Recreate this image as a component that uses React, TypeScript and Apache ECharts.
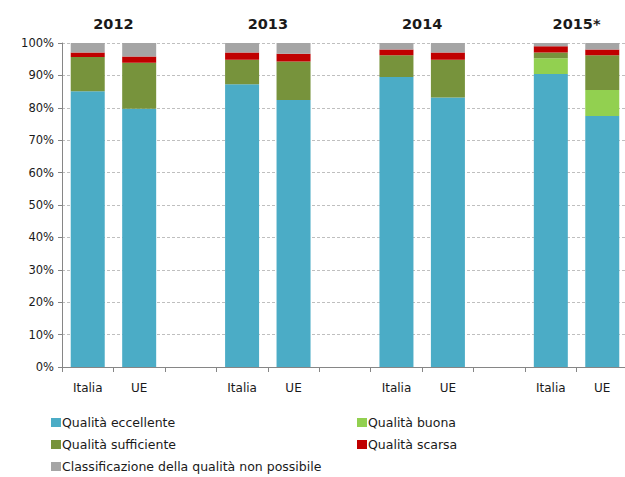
import React, { useEffect, useRef } from "react";
import * as echarts from "echarts";

const categories = ["Italia", "UE", "", "Italia", "UE", "", "Italia", "UE", "", "Italia", "UE"];
const years = ["2012", "2013", "2014", "2015*"];
const yTicks = [0, 10, 20, 30, 40, 50, 60, 70, 80, 90, 100];

const eccellente = [85.1, 79.7, null, 87.3, 82.4, null, 89.5, 83.2, null, 90.4, 77.5];
const buona = [0, 0, null, 0, 0, null, 0, 0, null, 4.9, 8.0];
const sufficiente = [10.6, 14.2, null, 7.5, 11.9, null, 6.7, 11.6, null, 1.8, 10.7];
const scarsa = [1.4, 1.9, null, 2.3, 2.4, null, 1.8, 2.3, null, 1.9, 1.8];
const nonPossibile = [2.9, 4.2, null, 2.9, 3.3, null, 2.0, 2.9, null, 1.0, 2.0];

const seriesNames = [
  "Qualità eccellente",
  "Qualità buona",
  "Qualità sufficiente",
  "Qualità scarsa",
  "Classificazione della qualità non possibile",
];
const seriesData = [eccellente, buona, sufficiente, scarsa, nonPossibile];
const colors = ["#4BACC6", "#92D050", "#77933C", "#C00000", "#A5A5A5"];

const FONT = "DejaVu Sans";
const TEXT = "#1a1a1a";

export default function App() {
  const ref = useRef<HTMLDivElement>(null);
  useEffect(() => {
    if (!ref.current) return;
    const chart = echarts.init(ref.current, undefined, { renderer: "svg" });
    const yearAt: Record<number, string> = {};
    years.forEach((y, i) => {
      yearAt[i * 3 + 1] = y;
    });
    const legendBase = {
      orient: "vertical",
      top: 411,
      height: 90,
      itemWidth: 10,
      itemHeight: 9,
      itemGap: 9,
      icon: "rect",
      textStyle: { color: TEXT, fontFamily: FONT, fontSize: 12.5, padding: [0, 0, 0, -4] },
    };
    chart.setOption({
      animation: false,
      backgroundColor: "#ffffff",
      grid: { left: 62, top: 43, width: 566, height: 324, outerBoundsMode: "none", containLabel: false },
      xAxis: [
        {
          type: "category",
          data: categories,
          boundaryGap: true,
          axisLine: { show: true, lineStyle: { color: "#868686", width: 1 } },
          axisTick: { show: true, length: 5, lineStyle: { color: "#868686" } },
          axisLabel: { color: TEXT, fontFamily: FONT, fontSize: 12, margin: 15, interval: 0 },
          splitLine: { show: false },
        },
        {
          type: "value",
          position: "top",
          min: 0,
          max: categories.length,
          interval: 1,
          axisLine: { show: false },
          axisTick: { show: false },
          splitLine: { show: false },
          axisLabel: {
            show: true,
            margin: 12,
            color: TEXT,
            fontFamily: FONT,
            fontSize: 14.5,
            fontWeight: "bold",
            formatter: (v: number) => yearAt[Math.round(v)] || "",
          },
        },
      ],
      yAxis: {
        type: "value",
        min: 0,
        max: 100,
        interval: 10,
        axisLine: { show: true, lineStyle: { color: "#868686", width: 1 } },
        axisTick: { show: true, length: 4, lineStyle: { color: "#868686" } },
        axisLabel: {
          color: TEXT,
          fontFamily: FONT,
          fontSize: 11.5,
          margin: 8,
          formatter: (v: number) => (yTicks.includes(v) ? v + "%" : ""),
        },
        splitLine: { show: true, lineStyle: { color: "#BFBFBF", type: [3, 2], width: 1 } },
      },
      legend: [
        { ...legendBase, left: 46, data: [seriesNames[0], seriesNames[2], seriesNames[4]] },
        { ...legendBase, left: 352, data: [seriesNames[1], seriesNames[3]] },
      ],
      series: seriesNames.map((name, i) => ({
        name,
        type: "bar",
        stack: "total",
        xAxisIndex: 0,
        barWidth: 34,
        data: seriesData[i],
        itemStyle: { color: colors[i] },
        emphasis: { disabled: true },
      })),
    });
    return () => chart.dispose();
  }, []);
  return (
    <div
      ref={ref}
      style={{ position: "fixed", left: 0, top: 0, width: 625, height: 477 }}
    />
  );
}
